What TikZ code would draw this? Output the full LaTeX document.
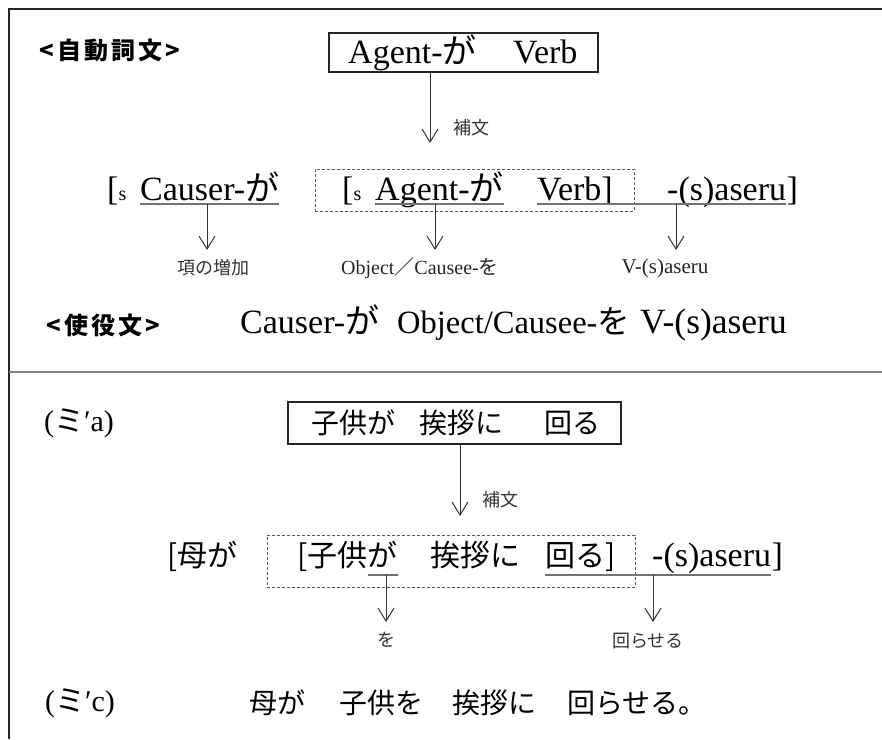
\documentclass[tikz,border=0pt]{standalone}
\usepackage{fontspec}
\setmainfont{Liberation Serif}
\newfontfamily\jp{Noto Sans CJK JP}
\usetikzlibrary{arrows.meta}
\newcommand\J[1]{{\jp #1}}
\newcommand\hsp{\hspace{3pt}}
\begin{document}
\begin{tikzpicture}[x=1pt,y=-1pt,
  fr/.style={line width=1.6pt, draw=black!85},
  dv/.style={line width=2pt, draw=black!50},
  ul/.style={line width=1.3pt, draw=black!55},
  arr/.style={line width=1pt, draw=black!80, -{Straight Barb[length=13pt,width=16pt]}},
  dbox/.style={draw=black!65, line width=1pt, dash pattern=on 3pt off 2pt, inner sep=0pt},
  sbox/.style={draw=black!85, line width=1.2pt, inner sep=0pt},
  L/.style={font=\fontsize{34}{36}\selectfont, inner sep=0pt, anchor=base west},
  JB/.style={font=\fontsize{30}{32}\selectfont\jp, inner sep=0pt, anchor=base west},
  JC/.style={font=\fontsize{28}{30}\selectfont\jp, inner sep=0pt, anchor=west},
  S/.style={font=\fontsize{20}{22}\selectfont, inner sep=0pt, text=black!85},
  SJ/.style={font=\fontsize{18}{20}\selectfont\jp, inner sep=0pt, text=black!80},
  H/.style={font=\fontsize{24}{26}\selectfont\jp\bfseries, inner sep=0pt},
  EX/.style={font=\fontsize{30}{32}\selectfont, inner sep=0pt}
]
\useasboundingbox (0,0) rectangle (882,739);
\fill[white] (0,0) rectangle (882,739);
% frame
\coordinate (ftl) at (9,9);
\coordinate (ftr) at (882,9);
\coordinate (fbl) at (9,739);
\coordinate (dl) at (9,372);
\coordinate (dr) at (882,372);
\draw[fr] (ftr) -- (ftl) -- (fbl);
\draw[dv] (dl) -- (dr);

% ===== top section =====
\node[H] (h1) at (110,50) {<\hsp 自\hsp 動\hsp 詞\hsp 文\hsp >};
\node[sbox, minimum width=269pt, minimum height=39pt] (box1) at (463.5,52.5) {};
\node[L] (t1a) at (348,63) {Agent-\J{が}};
\node[L] (t1b) at (513,63) {Verb};
\coordinate (a1e) at (430,143);
\draw[arr] (box1.south -| a1e) -- (a1e);
\node[SJ, anchor=west] (hb1) at (453,128) {補文};

% row 2
\node[dbox, minimum width=319pt, minimum height=42pt] (db1) at (474.5,190) {};
\node[L] (br1) at (107,200) {[\fontsize{20}{20}\selectfont s};
\node[L] (causer) at (140,200) {Causer-\J{が}};
\node[L] (br2) at (342,200) {[\fontsize{20}{20}\selectfont s};
\node[L] (agent) at (375,200) {Agent-\J{が}};
\node[L] (verb) at (537,200) {Verb]};
\node[L] (sas1) at (667,200) {-(s)aseru};
\node[L, anchor=base west] (rb1) at (sas1.base east) {]};
\coordinate (u1) at (0,204);
\draw[ul] (causer.west |- u1) -- (causer.east |- u1);
\draw[ul] (agent.west |- u1) -- (agent.east |- u1);
\draw[ul] (verb.west |- u1) -- (sas1.east |- u1);
\coordinate (a2s) at (207,204); \coordinate (a2e) at (207,250);
\coordinate (a3s) at (435,204); \coordinate (a3e) at (435,250);
\coordinate (a4s) at (676,204); \coordinate (a4e) at (676,250);
\draw[arr] (a2s) -- (a2e);
\draw[arr] (a3s) -- (a3e);
\draw[arr] (a4s) -- (a4e);
\node[SJ] (lab1) at (213,268) {項の増加};
\node[S] (lab2) at (420,268) {Object\J{／}Causee-\J{を}};
\node[S, font=\fontsize{21}{23}\selectfont] (lab3) at (665,268) {V-(s)aseru};

% row 3
\node[H] (h2) at (103,325) {<\hsp 使\hsp 役\hsp 文\hsp >};
\node[L] (c1) at (240,333) {Causer-\J{が}};
\node[L, font=\fontsize{32.5}{34}\selectfont] (c2) at (397,333) {Object/Causee-\J{を}};
\node[L, font=\fontsize{35.5}{37}\selectfont] (c3) at (640,333) {V-(s)aseru};

% ===== bottom section =====
\node[EX] (ex1) at (79,423) {(\J{ミ}′a)};
\node[sbox, minimum width=333pt, minimum height=42pt] (box2) at (454.5,423) {};
\node[JC] (b1) at (311,423) {子供が};
\node[JC] (b2) at (419,423) {挨拶に};
\node[JC] (b3) at (544,423) {回る};
\coordinate (a5e) at (460,516);
\draw[arr] (box2.south -| a5e) -- (a5e);
\node[SJ, anchor=west] (hb2) at (482,500) {補文};

\node[dbox, minimum width=368pt, minimum height=52pt] (db2) at (451,561) {};
\node[JB] (m1) at (167,566) {[母が};
\node[JB] (k1) at (297,566) {[子供};
\node[JB] (ga) at (k1.base east) {が};
\node[JB] (k2) at (430,566) {挨拶に};
\node[JB] (k3) at (545,566) {回る]};
\node[L] (sas2) at (652,566) {-(s)aseru};
\node[L] (rb2) at (sas2.base east) {]};
\coordinate (u2) at (0,575);
\draw[ul] (ga.west |- u2) -- (ga.east |- u2);
\draw[ul] (k3.west |- u2) -- (sas2.east |- u2);
\coordinate (a6s) at (386,575); \coordinate (a6e) at (386,622);
\coordinate (a7s) at (653,575); \coordinate (a7e) at (653,622);
\draw[arr] (a6s) -- (a6e);
\draw[arr] (a7s) -- (a7e);
\node[SJ] (lab4) at (386,640) {を};
\node[SJ] (lab5) at (648,641) {回らせる};

\node[EX] (ex2) at (80,703) {(\J{ミ}′c)};
\node[JC] (f1) at (249,703) {母が};
\node[JC] (f2) at (339,703) {子供を};
\node[JC] (f3) at (452,703) {挨拶に};
\node[JC] (f4) at (567,703) {回らせる。};
\end{tikzpicture}
\end{document}
